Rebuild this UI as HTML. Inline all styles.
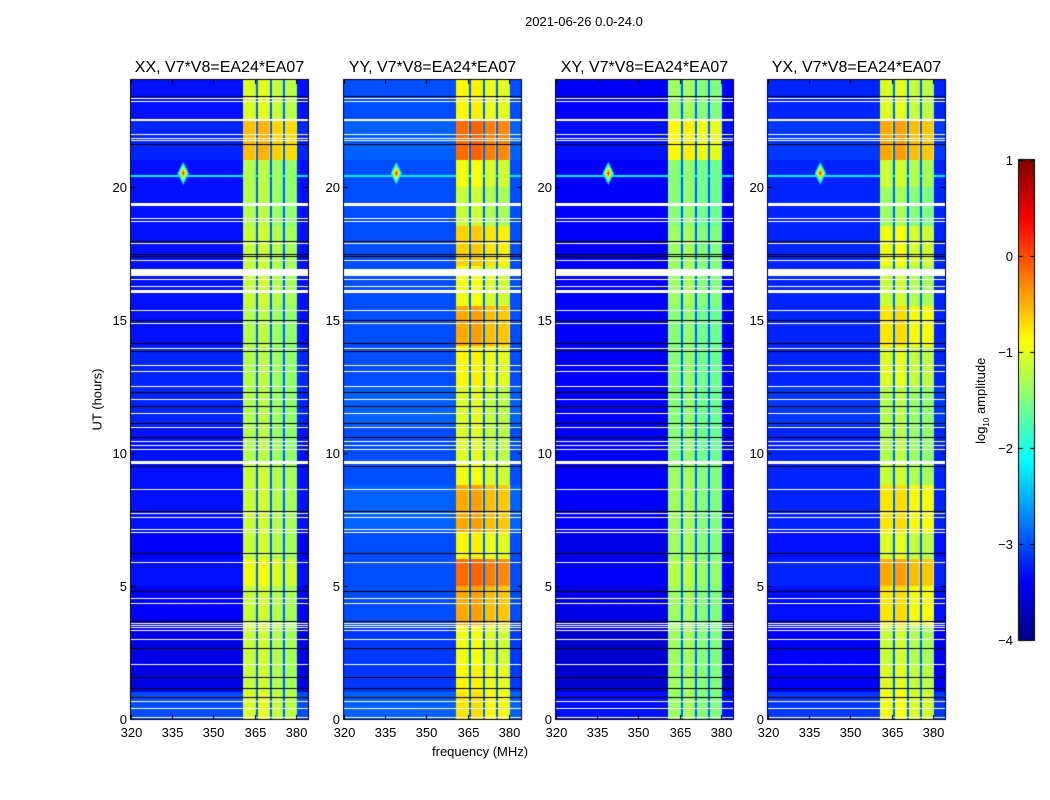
<!DOCTYPE html>
<html><head><meta charset="utf-8"><style>
body{margin:0;background:#fff;font-family:"Liberation Sans",sans-serif}
#wrap{position:relative;width:1050px;height:800px;overflow:hidden}
.t{position:absolute;font-size:13px;color:#000;white-space:nowrap}
.ttl{position:absolute;font-size:16px;white-space:nowrap;transform:translateX(-50%)}
</style></head><body>
<div id="wrap">
<canvas id="c" width="1050" height="800" style="position:absolute;left:0;top:0"></canvas>
<div class="t" style="left:525px;top:14px">2021-06-26 0.0-24.0</div>
<div class="t" style="left:432px;top:744px">frequency (MHz)</div>
<div class="t" style="left:52px;top:392px;transform:rotate(-90deg);transform-origin:center;width:90px;text-align:center">UT (hours)</div>
<div class="t" style="left:930px;top:392px;transform:rotate(-90deg);width:104px;text-align:center">log<sub style="font-size:8px">10</sub> amplitude</div>
<div id="labels"></div>
</div>
<script>
const panelNames=["XX, V7*V8=EA24*EA07","YY, V7*V8=EA24*EA07","XY, V7*V8=EA24*EA07","YX, V7*V8=EA24*EA07"];
const xTicks=[320,335,350,365,380];
const yTicks=[0,5,10,15,20];
const cbTicks=[1,0,-1,-2,-3,-4];
const segEdges=[0,1,2,3.5,5,6,7,8.8,9.6,11,12.5,14,15.5,17,18.5,20,21,22.5,24];
const bgXX=[-3.0,-3.5,-3.5,-3.4,-3.3,-3.4,-3.3,-3.3,-3.3,-3.2,-3.2,-3.3,-3.3,-3.3,-3.3,-3.3,-3.2,-3.3];
const bgYY=[-2.9,-3.1,-3.1,-3.0,-3.0,-3.0,-2.9,-3.0,-3.0,-2.9,-3.0,-3.0,-3.0,-3.0,-3.0,-3.0,-2.9,-3.0];
const bgXY=[-3.3,-3.6,-3.6,-3.5,-3.4,-3.5,-3.4,-3.4,-3.4,-3.4,-3.4,-3.4,-3.4,-3.4,-3.4,-3.4,-3.3,-3.4];
const bgYX=[-3.1,-3.4,-3.4,-3.3,-3.2,-3.3,-3.2,-3.2,-3.2,-3.1,-3.2,-3.2,-3.2,-3.2,-3.2,-3.2,-3.1,-3.2];
const bandXX=[-1.1,-1.2,-1.2,-1.2,-1.0,-1.2,-1.2,-1.2,-1.3,-1.3,-1.3,-1.3,-1.2,-1.2,-1.3,-1.3,-0.6,-1.1];
const bandYY=[-0.8,-0.9,-1.0,-0.5,-0.2,-0.9,-0.5,-1.0,-1.1,-1.1,-0.9,-0.5,-1.0,-0.7,-1.2,-1.0,-0.2,-0.9];
const bandXY=[-1.4,-1.4,-1.4,-1.4,-1.3,-1.4,-1.4,-1.4,-1.5,-1.5,-1.5,-1.5,-1.4,-1.4,-1.5,-1.5,-0.9,-1.4];
const bandYX=[-1.0,-1.1,-1.2,-0.8,-0.5,-1.1,-0.8,-1.2,-1.3,-1.3,-1.1,-0.8,-1.2,-1.0,-1.4,-1.2,-0.5,-1.1];
const chanOffset=[0.05,0.1,-0.05,-0.1];
const bandRange=[360.7,380.4];
const dividerLevel=-2.9;
const rfiSource=[339,20.5,0.45];
const whiteGaps=[23.32,23.21,22.5,21.97,21.82,21.71,19.31,18.79,18.67,17.85,17.21,16.78,16.5,16.24,16.05,15.34,14.85,13.91,13.27,13.05,12.49,12.0,11.47,10.95,10.42,10.27,10.12,9.64,8.62,7.72,7.57,7.12,7.01,5.89,4.54,4.35,3.6,3.52,3.45,3.34,3.0,2.06,0.64,0.41,0.04];
const whiteWidths=[1,1,2,1,1,1,3,1,1,1,1,7,1,1,3,1,1,1,1,1,1,1,1,1,1,1,1,3,1,1,1,1,1,1,1,1,1,1,1,1,1,1,1,1,1];
const blackGaps=[23.4,21.6,17.96,17.47,17.4,15.0,14.14,13.84,12.3,11.77,11.1,10.61,9.49,7.8,6.24,4.8,3.67,2.66,1.57,1.16,0.82];
const bgs=[bgXX,bgYY,bgXY,bgYX], bands=[bandXX,bandYY,bandXY,bandYX];
const P={x0:[131,344,556,768],w:177,y0:80,h:639,fmin:320,fmax:384.4,tmin:0,tmax:24};
const CB={x:1019,y:160,w:15,h:480,vmin:-4,vmax:1};
function xs(i,f){return P.x0[i]+(f-P.fmin)/(P.fmax-P.fmin)*P.w}
function ys(t){return P.y0+P.h-(t-P.tmin)/(P.tmax-P.tmin)*P.h}
function jet(v){let x=(v-CB.vmin)/(CB.vmax-CB.vmin);x=Math.max(0,Math.min(1,x));
 const cl=a=>Math.max(0,Math.min(1,a));
 return [cl(1.5-Math.abs(4*x-3))*255,cl(1.5-Math.abs(4*x-2))*255,cl(1.5-Math.abs(4*x-1))*255];}
function seg(t){for(let s=0;s<segEdges.length-1;s++)if(t<segEdges[s+1])return s;return segEdges.length-2}
function val(p,f,t){const s=seg(t);let v=bgs[p][s];
 if(f>=bandRange[0]&&f<=bandRange[1]){const cw=(bandRange[1]-bandRange[0])/4;const c=Math.min(3,Math.floor((f-bandRange[0])/cw));const u=f-bandRange[0]-c*cw;
  if(c>0&&u<0.7)v=dividerLevel;else{v=bands[p][s]+chanOffset[c];if(u>cw-0.5)v-=0.3;}}
 const d=Math.abs(f-rfiSource[0])/2.2+Math.abs(t-rfiSource[1])/rfiSource[2];
 if(d<1)v=Math.max(v,0.4-3.2*d);
 if(Math.abs(t-rfiSource[1]+0.1)<0.05)v=Math.max(v,-2.2);
 return v;}
const cv=document.getElementById('c'),ctx=cv.getContext('2d');
const img=ctx.createImageData(1050,800);
for(let i=0;i<4;i++){for(let py=P.y0;py<P.y0+P.h;py++){const t=P.tmax-(py-P.y0+0.5)/P.h*P.tmax;
 for(let px=P.x0[i];px<P.x0[i]+P.w;px++){const f=P.fmin+(px-P.x0[i]+0.5)/P.w*(P.fmax-P.fmin);
  const c=jet(val(i,f,t));const k=(py*1050+px)*4;img.data[k]=c[0];img.data[k+1]=c[1];img.data[k+2]=c[2];img.data[k+3]=255;}}}
for(let py=CB.y;py<CB.y+CB.h;py++){const v=CB.vmax-(py-CB.y)/CB.h*(CB.vmax-CB.vmin);const c=jet(v);
 for(let px=CB.x;px<CB.x+CB.w;px++){const k=(py*1050+px)*4;img.data[k]=c[0];img.data[k+1]=c[1];img.data[k+2]=c[2];img.data[k+3]=255;}}
for(let i=0;i<800*1050;i++){if(img.data[i*4+3]===0){img.data[i*4]=255;img.data[i*4+1]=255;img.data[i*4+2]=255;img.data[i*4+3]=255;}}
ctx.putImageData(img,0,0);
const L=document.getElementById('labels');
function lab(txt,x,y,name,align){const d=document.createElement('div');d.className='t';d.textContent=txt;d.style.top=(y-8)+'px';
 if(align==='r'){d.style.right=(1050-x)+'px';}else{d.style.left=x+'px';d.style.transform='translateX(-50%)';}
 
 
 L.appendChild(d);}
for(let i=0;i<4;i++){
 whiteGaps.forEach((g,j)=>{ctx.fillStyle='#fff';const w=whiteWidths[j];ctx.fillRect(P.x0[i],Math.round(ys(g)-w/2),P.w,w);});
 blackGaps.forEach(g=>{ctx.fillStyle='#000';ctx.fillRect(P.x0[i],Math.round(ys(g)),P.w,1);});
 ctx.strokeStyle='#000';ctx.lineWidth=1;ctx.strokeRect(P.x0[i]-0.5,P.y0-0.5,P.w+1,P.h+1);
 const tt=document.createElement('div');tt.className='ttl';tt.textContent=panelNames[i];tt.style.left=(P.x0[i]+P.w/2)+'px';tt.style.top='59px';
 
 
 L.appendChild(tt);
 xTicks.forEach(f=>{const x=Math.round(xs(i,f))+0.5;ctx.beginPath();ctx.moveTo(x,P.y0+P.h);ctx.lineTo(x,P.y0+P.h-4);ctx.moveTo(x,P.y0);ctx.lineTo(x,P.y0+4);ctx.stroke();
  lab(String(f),x,733,'x-tick-label');});
 yTicks.forEach(t=>{const y=Math.round(ys(t))+0.5;ctx.beginPath();ctx.moveTo(P.x0[i],y);ctx.lineTo(P.x0[i]+4,y);ctx.moveTo(P.x0[i]+P.w,y);ctx.lineTo(P.x0[i]+P.w-4,y);ctx.stroke();
  lab(String(t),P.x0[i]-4,y,'y-tick-label','r');});
}
ctx.strokeStyle='#000';ctx.strokeRect(CB.x-0.5,CB.y-0.5,CB.w+1,CB.h+1);
cbTicks.forEach(v=>{const y=Math.round(CB.y+(CB.vmax-v)/(CB.vmax-CB.vmin)*CB.h)+0.5;ctx.beginPath();ctx.moveTo(CB.x,y);ctx.lineTo(CB.x+4,y);ctx.moveTo(CB.x+CB.w,y);ctx.lineTo(CB.x+CB.w-4,y);ctx.stroke();
 lab(v<0?'\u2212'+(-v):String(v),1013,y,'colorbar-tick-label','r');});
</script>
</body></html>
